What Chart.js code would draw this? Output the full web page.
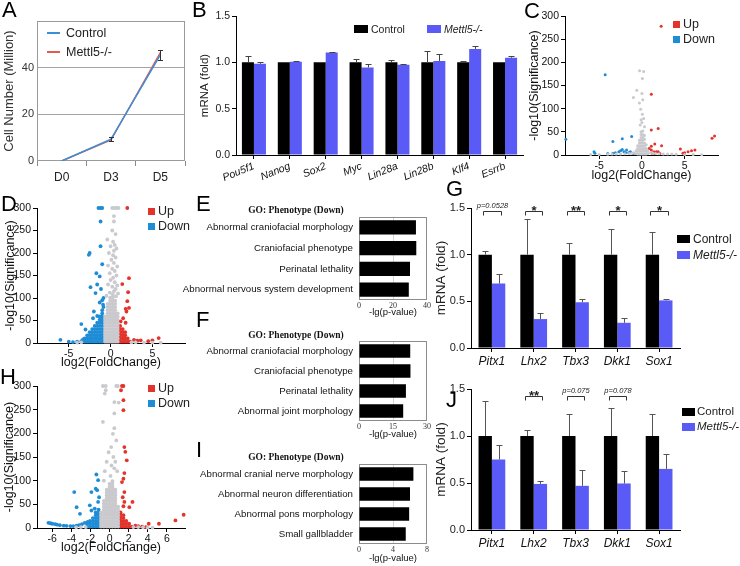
<!DOCTYPE html>
<html><head><meta charset="utf-8">
<script src="https://cdn.jsdelivr.net/npm/chart.js@4.4.1/dist/chart.umd.min.js"></script>
<style>
html,body{margin:0;padding:0;background:#fff;}
#root{position:relative;width:740px;height:566px;overflow:hidden;background:#fff;font-family:"Liberation Sans",Arial,sans-serif;color:#000;}
#root canvas{position:absolute;}
.t{position:absolute;white-space:nowrap;line-height:1;}
.sq{position:absolute;}
</style></head><body><div id="root"></div>
<script>
const SANS='"Liberation Sans", Arial, sans-serif', SERIF='"Liberation Serif", "Times New Roman", serif';
const BLUE_BAR='#5a5af6', BLUE_LINE='#3b8fd6', RED_LINE='#e05c4c', UP='#e3342c', DOWN='#1f8dd6', GREY='#c9c9ce';

// ---------- Panel A ----------
const daysA=['D0','D3','D5'];
const ctrlA=[0,9.4,45.5];
const mutA=[0,9.0,46.5];
const errA=[0,0.7,2.0];
const yTicksA=[0,20,40];

// ---------- Panel B ----------
const genesB=['Pou5f1','Nanog','Sox2','Myc','Lin28a','Lin28b','Klf4','Esrrb'];
const ctrlB=[1,1,1,1,1,1,1,1];
const ctrlBerr=[0.065,0.005,0.008,0.04,0.03,0.12,0.015,0.005];
const mutB=[0.985,1.005,1.105,0.945,0.975,1.015,1.145,1.05];
const mutBerr=[0.015,0.01,0.01,0.04,0.01,0.07,0.035,0.015];
const yTicksBar=[0,0.5,1,1.5];
const yLabBar=['0.0','0.5','1.0','1.5'];

// ---------- Volcano C ----------
const yTicksV=[0,50,100,150,200,250,300];
const xTicksC=[-5,0,5];
const cGray=[-0.27,182,0.2,180,0.05,165,-0.6,140,0,133,-1.0,124,-0.3,112,-0.15,99,0.1,119,0.2,79,0,70,-0.2,65,0.3,61,0.05,88,-0.1,76,
-0.7,3,-0.7,9,
-0.5,2,-0.5,8,-0.5,14,-0.5,20,
-0.3,2,-0.3,8,-0.3,14,-0.3,20,-0.3,26,-0.3,32,
-0.1,2,-0.1,8,-0.1,14,-0.1,20,-0.1,26,-0.1,32,-0.1,38,-0.1,44,-0.1,50,
0.1,2,0.1,8,0.1,14,0.1,20,0.1,26,0.1,32,0.1,38,0.1,44,0.1,52,
0.3,2,0.3,8,0.3,14,0.3,20,0.3,26,0.3,34,0.3,42,
0.5,2,0.5,8,0.5,14,0.5,22,
0.7,3,0.7,9,
-6,1,-5,1,-4,1.5,-3.5,2,-3,2,-2.5,2,-2,2.5,-1.5,3,-1.2,4,-1,5,1,5,1.3,4,1.6,3,2,2.5,2.5,2,3,2,3.5,2,4,1.5,5,1,6,1,7,0.5];
const cUp=[2.25,278,1.1,131,1.1,54,1.9,57,1.5,24,1.1,19,2.3,20,1.1,11,1.4,7,1.7,7,1.9,7,0.85,14,1.2,4,1.5,3,2.1,3,4.5,13,5.0,5,5.4,7,5.8,9,6.2,11,4.8,4,8.2,36,8.5,41];
const cDown=[-4.3,173,-3.4,29,-2.3,35,-1.2,40,-5.6,7,-5.5,4,-3.4,4,-3.1,5,-2.7,7,-2.5,9,-2.1,7,-1.9,5,-1.55,5,-1.35,7,-2.3,12,-1.8,11,-8.9,34,-1.0,3,-4,3];

// ---------- Volcano D ----------
const xTicksD=[-5,0,5];
const dGray=[0.2,300,0.45,300,0.7,300,0.95,300,
0.4,282,0.4,270,0.2,250,0.6,242,-0.4,230,0.3,225,0.5,218,0.0,215,0.7,210,0.4,205,-0.2,200,0.3,195,0.6,190,0.1,185,0.4,178,-0.3,172,0.8,170,0.2,165,0.5,160,-0.1,155,0.7,150,0.3,145,0.0,140,0.5,135,-0.3,130,0.8,128,0.2,125,0.6,120,0.4,115,-0.1,112,0.9,110,-0.5,105,0.65,104,
-0.65,3,-0.65,10,-0.65,17,-0.65,24,-0.65,31,-0.65,38,-0.65,45,-0.65,52,-0.65,59,
-0.35,3,-0.35,10,-0.35,17,-0.35,24,-0.35,31,-0.35,38,-0.35,45,-0.35,52,-0.35,59,-0.35,66,-0.35,73,-0.35,80,-0.35,87,
-0.05,3,-0.05,10,-0.05,17,-0.05,24,-0.05,31,-0.05,38,-0.05,45,-0.05,52,-0.05,59,-0.05,66,-0.05,73,-0.05,80,-0.05,87,-0.05,94,-0.05,101,
0.25,3,0.25,10,0.25,17,0.25,24,0.25,31,0.25,38,0.25,45,0.25,52,0.25,59,0.25,66,0.25,73,0.25,80,0.25,87,0.25,94,0.25,101,0.25,108,
0.55,3,0.55,10,0.55,17,0.55,24,0.55,31,0.55,38,0.55,45,0.55,52,0.55,59,0.55,66,0.55,73,0.55,80,0.55,87,0.55,94,
0.85,3,0.85,10,0.85,17,0.85,24,0.85,31,0.85,38,0.85,45,0.85,52,0.85,59,0.85,66,
-4,1,-3.5,1.5,2.5,1.5,3,1.5,4,1,5,1,6,1];
const dDown=[-1.2,300,-1.0,300,-1.45,300,-1.2,270,-1.2,215,-2.5,200,-2.6,196,-1.7,155,-1.3,148,-2.4,124,-1.6,130,-1.8,111,-1.0,175,-3.5,42,-1.0,95,-0.85,100,-1.3,90,-0.9,85,-2.0,70,-0.85,80,-1.6,60,-3.0,30,-6,7,-5,3,-4.5,2,-4,3,-3.5,4,-3.3,8,-1.15,120,-2.1,55,
-1.0,3,-1.0,10,-1.0,17,-1.0,24,-1.0,31,-1.0,38,-1.0,45,-1.0,52,-1.0,59,-1.0,66,-1.0,73,
-1.3,3,-1.3,10,-1.3,17,-1.3,24,-1.3,31,-1.3,38,-1.3,45,-1.3,52,-1.3,59,
-1.6,3,-1.6,10,-1.6,17,-1.6,24,-1.6,31,-1.6,38,-1.6,45,
-1.9,3,-1.9,10,-1.9,17,-1.9,24,-1.9,31,-1.9,38,
-2.2,3,-2.2,10,-2.2,17,-2.2,24,-2.2,31,
-2.5,3,-2.5,10,-2.5,17,-2.5,24,
-2.8,3,-2.8,10,-2.8,17,
-3.1,3,-3.1,10];
const dUp=[2.0,300,2.2,144,1.4,131,2.1,113,2.0,93,2.2,78,1.8,76,1.9,70,5.75,11,5.0,6,2.8,7,3.6,6,4.5,4,3.2,5,1.8,45,1.5,55,1.2,48,
1.15,3,1.15,10,1.15,17,1.15,24,1.15,31,1.15,38,
1.45,3,1.45,10,1.45,17,1.45,24,1.45,31,
1.75,3,1.75,10,1.75,17,1.75,24,
2.05,3,2.05,10,
2.35,3];

// ---------- Volcano H ----------
const xTicksH=[-6,-4,-2,0,2,4,6];
const hGray=[-0.7,300,-0.4,300,0.7,300,0.86,300,
-0.4,291,-0.5,284,0.5,266,0.96,265,0.5,242,-0.7,224,0.5,211,0.35,199,0.7,185,0.17,171,-0.1,160,0.4,150,0.6,140,-0.3,140,0.2,132,0.5,126,0.8,120,-0.5,120,0.1,110,-0.6,100,
-0.9,3,-0.9,9,-0.9,15,-0.9,21,-0.9,27,-0.9,33,
-0.6,3,-0.6,9,-0.6,15,-0.6,21,-0.6,27,-0.6,33,-0.6,39,-0.6,45,-0.6,51,-0.6,57,
-0.3,3,-0.3,9,-0.3,15,-0.3,21,-0.3,27,-0.3,33,-0.3,39,-0.3,45,-0.3,51,-0.3,57,-0.3,63,-0.3,69,-0.3,75,-0.3,81,
0,3,0,9,0,15,0,21,0,27,0,33,0,39,0,45,0,51,0,57,0,63,0,69,0,75,0,81,0,87,0,93,
0.3,3,0.3,9,0.3,15,0.3,21,0.3,27,0.3,33,0.3,39,0.3,45,0.3,51,0.3,57,0.3,63,0.3,69,0.3,75,0.3,81,0.3,87,0.3,93,0.3,99,
0.6,3,0.6,9,0.6,15,0.6,21,0.6,27,0.6,33,0.6,39,0.6,45,0.6,51,0.6,57,0.6,63,0.6,69,0.6,75,0.6,81,
0.9,3,0.9,9,0.9,15,0.9,21,0.9,27,0.9,33,0.9,39,0.9,45,
-3.5,1.5,-3,2,-2.5,2,2.5,2,3,2,3.5,1.5,4,1,4.5,1];
const hDown=[-1.38,113,-1.2,101,-1.45,83,-1.3,80,-1.9,76,-3.7,76,-3.45,44,-3.1,30,-2.07,48,-1.9,37,-1.55,41,-1.2,55,-1.1,65,-6.4,11,-6.2,10,-6.0,9,-5.7,8,-5.5,7,-5.2,6,-4.8,5,-4.5,4.5,-4.1,4,-3.8,4,-3.45,5,-3.2,6,-2.9,8,-2.6,11,-2.3,13,
-1.15,3,-1.15,9,-1.15,15,-1.15,21,-1.15,27,-1.15,33,-1.15,39,
-1.45,3,-1.45,9,-1.45,15,-1.45,21,-1.45,27,-1.45,33,
-1.75,3,-1.75,9,-1.75,15,-1.75,21,
-2.05,3,-2.05,9,-2.05,15,
-2.35,3,-2.35,9];
const hUp=[1.3,300,1.45,300,1.2,291,1.45,270,1.45,249,1.55,171,1.65,161,1.8,143,1.55,116,1.45,104,1.3,97,1.55,76,1.38,65,1.55,55,1.45,46,2.4,55,2.07,44,7.76,28,6.9,16,5.17,9,4.1,9,2.7,5,3.0,4,3.4,3,3.8,2,
1.15,3,1.15,9,1.15,15,1.15,21,1.15,27,1.15,33,
1.45,3,1.45,9,1.45,15,1.45,21,1.45,27,
1.75,3,1.75,9,1.75,15,
2.05,3,2.05,9,
2.35,3];

// ---------- GO panels ----------
const goE=['Abnormal craniofacial morphology','Craniofacial phenotype','Perinatal lethality','Abnormal nervous system development'];
const valE=[33.5,33.7,30.0,29.3];
const ticksE=[0,20,40];
const goF=['Abnormal craniofacial morphology','Craniofacial phenotype','Perinatal lethality','Abnormal joint morphology'];
const valF=[22.6,22.7,20.7,19.5];
const ticksF=[0,15,30];
const goI=['Abnormal cranial nerve morphology','Abnormal neuron differentiation','Abnormal pons morphology','Small gallbladder'];
const valI=[6.4,6.0,5.9,5.5];
const ticksI=[0,4,8];

// ---------- Panels G, J ----------
const genesGJ=['Pitx1','Lhx2','Tbx3','Dkk1','Sox1'];
const ctrlG=[1,1,1,1,1];
const ctrlGerr=[0.04,0.38,0.12,0.27,0.24];
const mutG=[0.69,0.31,0.49,0.27,0.51];
const mutGerr=[0.10,0.06,0.04,0.05,0.01];
const sigG=['p=0.0528','*','**','*','*'];
const ctrlJ=[1,1,1,1,1];
const ctrlJerr=[0.37,0.06,0.23,0.30,0.235];
const mutJ=[0.75,0.49,0.47,0.495,0.65];
const mutJerr=[0.15,0.03,0.17,0.13,0.16];
const sigJ=['','**','p=0.075','p=0.078',''];

// ================= helpers =================
const root=document.getElementById('root');
Chart.defaults.font.family=SANS;
Chart.defaults.color='#111';
function txt(s,x,y,style,anchor){
  const d=document.createElement('div');d.className='t';d.textContent=s;
  d.style.cssText='left:'+x+'px;top:'+y+'px;'+(style||'');
  const tx=anchor==='c'?'-50%':anchor==='r'?'-100%':'0';
  d.style.transform='translate('+tx+',-50%)';
  root.appendChild(d);return d;
}
function sq(x,y,w,h,c){const d=document.createElement('div');d.className='sq';d.style.cssText='left:'+x+'px;top:'+y+'px;width:'+w+'px;height:'+h+'px;background:'+c;root.appendChild(d);}
function pairs(a){const o=[];for(let i=0;i<a.length;i+=2)o.push({x:a[i],y:a[i+1]});return o;}
function mk(x,y,w,h,cfg){
  const c=document.createElement('canvas');c.width=w;c.height=h;
  c.style.left=x+'px';c.style.top=y+'px';c.style.width=w+'px';c.style.height=h+'px';
  root.appendChild(c);
  cfg.options=Object.assign({responsive:false,animation:false,devicePixelRatio:1,events:[]},cfg.options);
  return new Chart(c.getContext('2d'),cfg);
}
function errPlugin(list,color,cap,both){
  return {id:'errbars',afterDatasetsDraw(chart){
    const ctx=chart.ctx,ys=chart.scales.y;
    ctx.save();ctx.strokeStyle=color;ctx.lineWidth=1;
    list.forEach((errs,di)=>{
      if(!errs)return;
      const meta=chart.getDatasetMeta(di),data=chart.data.datasets[di].data;
      meta.data.forEach((el,j)=>{
        const e=errs[j];if(!e)return;
        const v=data[j],x=Math.round(el.x)+0.5;
        const yT=Math.round(ys.getPixelForValue(v+e))+0.5,yM=ys.getPixelForValue(v);
        const yB=both?Math.round(ys.getPixelForValue(v-e))+0.5:yM;
        ctx.beginPath();ctx.moveTo(x,yB);ctx.lineTo(x,yT);
        ctx.moveTo(x-cap,yT);ctx.lineTo(x+cap,yT);
        if(both){ctx.moveTo(x-cap,yB);ctx.lineTo(x+cap,yB);}
        ctx.stroke();
      });
    });
    ctx.restore();
  }};
}
function framePlugin(color){
  return {id:'frame',beforeDatasetsDraw(chart){
    const a=chart.chartArea,ctx=chart.ctx;ctx.save();ctx.strokeStyle=color;ctx.lineWidth=1;
    ctx.strokeRect(Math.round(a.left)+0.5,Math.round(a.top)+0.5,Math.round(a.right-a.left)-1,Math.round(a.bottom-a.top)-1);ctx.restore();
  }};
}
function sigPlugin(labels,at){
  return {id:'sig',afterDatasetsDraw(chart){
    const ctx=chart.ctx,ys=chart.scales.y,m0=chart.getDatasetMeta(0),m1=chart.getDatasetMeta(1);
    const y=Math.round(ys.getPixelForValue(at))+0.5;
    ctx.save();ctx.strokeStyle='#333';ctx.fillStyle='#222';ctx.lineWidth=1;ctx.textAlign='center';
    labels.forEach((s,i)=>{
      if(!s)return;
      const x1=Math.round(m0.data[i].x-2)+0.5,x2=Math.round(m1.data[i].x+2)+0.5;
      ctx.beginPath();ctx.moveTo(x1,y+4);ctx.lineTo(x1,y);ctx.lineTo(x2,y);ctx.lineTo(x2,y+4);ctx.stroke();
      const xc=(x1+x2)/2;
      if(s.charAt(0)==='p'){ctx.font='italic 7.5px '+SANS;ctx.textBaseline='middle';ctx.fillText(s,xc,y-6);}
      else{ctx.font='bold 13px '+SANS;ctx.textBaseline='alphabetic';ctx.fillText(s,xc,y+3.5);}
    });
    ctx.restore();
  }};
}
const axisBlack={drawOnChartArea:false,tickLength:4,color:'#000'};

// ================= Panel A =================
mk(0,0,190,185,{type:'line',
  data:{labels:daysA,datasets:[
    {label:'Control',data:ctrlA,borderColor:BLUE_LINE,borderWidth:1.5,pointRadius:0,tension:0},
    {label:'Mettl5-/-',data:mutA,borderColor:RED_LINE,borderWidth:1.5,pointRadius:0,tension:0}]},
  options:{layout:{padding:{top:21,right:5,left:0,bottom:0},autoPadding:false},
    plugins:{legend:{display:false},tooltip:{enabled:false}},
    scales:{
      x:{offset:true,grid:{offset:true,drawOnChartArea:false,tickLength:5,color:'#8a8a8a'},border:{display:false},
         ticks:{font:{size:12},color:'#222',padding:4},afterFit:s=>{s.height=24;}},
      y:{min:0,max:60,afterBuildTicks:s=>{s.ticks=yTicksA.map(v=>({value:v}));},
         grid:{drawTicks:false,color:c=>c.tick&&c.tick.value===0?'rgba(0,0,0,0)':'#a4a4a4'},border:{display:false},
         ticks:{font:{size:11},color:'#333',padding:3},
         title:{display:true,text:'Cell Number (Million)',font:{size:13},color:'#333',padding:{top:2,bottom:0}},
         afterFit:s=>{s.width=37;}}}},
  plugins:[framePlugin('#9a9a9a'),errPlugin([errA,null],'#333',2.5,true)]});
sq(47,32,13,1.5,BLUE_LINE);txt('Control',66,33,'font-size:12.5px;color:#222');
sq(47,51,13,1.5,RED_LINE);txt('Mettl5-/-',66,52,'font-size:12.5px;color:#222');

// ================= Panel B =================
mk(190,0,340,200,{type:'bar',
  data:{labels:genesB,datasets:[
    {label:'Control',data:ctrlB,backgroundColor:'#000',categoryPercentage:0.67,barPercentage:1},
    {label:'Mettl5-/-',data:mutB,backgroundColor:BLUE_BAR,categoryPercentage:0.67,barPercentage:1}]},
  options:{layout:{padding:{top:16,right:7,left:0,bottom:0},autoPadding:false},
    plugins:{legend:{display:false},tooltip:{enabled:false}},
    scales:{
      x:{grid:Object.assign({offset:false},axisBlack),border:{color:'#000'},
         ticks:{font:{size:10.5,style:'italic'},color:'#111',minRotation:22,maxRotation:22,padding:1,autoSkip:false},
         afterFit:s=>{s.height=45;}},
      y:{min:0,max:1.5,afterBuildTicks:s=>{s.ticks=yTicksBar.map(v=>({value:v}));},
         grid:axisBlack,border:{color:'#000'},
         ticks:{font:{size:10.5},color:'#222',padding:2,callback:(v,i)=>yLabBar[i]},
         title:{display:true,text:'mRNA (fold)',font:{size:11.5},color:'#222',padding:{top:8,bottom:0}},
         afterFit:s=>{s.width=46;}}}},
  plugins:[errPlugin([ctrlBerr,mutBerr],'#444',3,false)]});
sq(354,25,14,8,'#000');txt('Control',371,29,'font-size:10.5px;color:#222');
sq(427,25,14,8,BLUE_BAR);txt('Mettl5-/-',444,29,'font-size:10.5px;font-style:italic;color:#222');

// ================= Volcano helper =================
function volcano(x,y,w,h,padTop,padRight,yW,xH,xmin,xmax,xticks,gray,down,up,r,tpy,tpx){
  const ds=(d,c)=>({data:pairs(d),backgroundColor:c,pointBackgroundColor:c,pointRadius:r,pointBorderWidth:0,borderWidth:0,clip:6});
  mk(x,y,w,h,{type:'scatter',
    data:{datasets:[ds(gray,GREY),ds(down,DOWN),ds(up,UP)]},
    options:{layout:{padding:{top:padTop,right:padRight,left:0,bottom:0},autoPadding:false},
      plugins:{legend:{display:false},tooltip:{enabled:false}},
      scales:{
        x:{type:'linear',min:xmin,max:xmax,afterBuildTicks:s=>{s.ticks=xticks.map(v=>({value:v}));},
           grid:axisBlack,border:{color:'#000'},ticks:{font:{size:10.5},color:'#111',padding:1,maxRotation:0,autoSkip:false},
           title:{display:true,text:'log2(FoldChange)',font:{size:12.5},color:'#111',padding:{top:0,bottom:tpx}},
           afterFit:s=>{s.height=xH;}},
        y:{type:'linear',min:0,max:300,afterBuildTicks:s=>{s.ticks=yTicksV.map(v=>({value:v}));},
           grid:axisBlack,border:{color:'#000'},ticks:{font:{size:10.5},color:'#111',padding:2},
           title:{display:true,text:'-log10(Significance)',font:{size:12.5},color:'#111',padding:{top:tpy,bottom:0}},
           afterFit:s=>{s.width=yW;}}}}});
}
function vlegend(x,yUp){
  sq(x,yUp-3.5,7,7,UP);txt('Up',x+10,yUp,'font-size:12.5px;color:#222');
  sq(x,yUp+11.5,7,7,DOWN);txt('Down',x+10,yUp+15,'font-size:12.5px;color:#222');
}
volcano(525,0,215,195,16,22,40,40,-9,8.9,xTicksC,cGray,cDown,cUp,1.5,2.5,11.5);
vlegend(673,24);
volcano(0,190,190,182,18,5,37,29,-8.8,8.9,xTicksD,dGray,dDown,dUp,1.9,3.5,1.5);
vlegend(148,211);
volcano(0,368,190,198,18,5,37,38,-7.6,7.9,xTicksH,hGray,hDown,hUp,1.9,2.5,10.5);
vlegend(148,388);

// ================= GO panels =================
function goChart(x,y,w,h,padTop,xH,labels,vals,ticks,tpx){
  mk(x,y,w,h,{type:'bar',
    data:{labels:labels,datasets:[{data:vals,backgroundColor:'#000',categoryPercentage:1,barPercentage:0.68}]},
    options:{indexAxis:'y',layout:{padding:{top:padTop,right:8,left:0,bottom:0},autoPadding:false},
      plugins:{legend:{display:false},tooltip:{enabled:false}},
      scales:{
        y:{grid:{display:false,drawTicks:false},border:{display:false},ticks:{font:{size:9.7},color:'#111',padding:6,autoSkip:false},afterFit:s=>{s.width=181;}},
        x:{min:ticks[0],max:ticks[2],afterBuildTicks:s=>{s.ticks=ticks.map(v=>({value:v}));},
           grid:{drawTicks:false,color:c=>c.tick&&c.tick.value===ticks[1]?'#d6d6d6':'rgba(0,0,0,0)'},border:{display:false},
           ticks:{font:{size:8,family:SERIF},color:'#333',padding:1},
           title:{display:true,text:'-lg(p-value)',font:{size:9.5},color:'#111',padding:{top:0,bottom:tpx}},
           afterFit:s=>{s.height=xH;}}}},
    plugins:[framePlugin('#8c8c8c')]});
}
goChart(178,200,257,125,17,25,goE,valE,ticksE,6.5);
goChart(178,325,257,120,16,24,goF,valF,ticksF,4.5);
goChart(178,448,257,118,16,22,goI,valI,ticksI,1.5);
const goTitle='font-family:'+SERIF+';font-weight:bold;font-size:9.5px;color:#111';
txt('GO: Phenotype (Down)',296,211,goTitle,'c');
txt('GO: Phenotype (Down)',296,336,goTitle,'c');
txt('GO: Phenotype (Down)',296,458,goTitle,'c');

// ================= G, J =================
function gj(x,y,padTop,xH,ctrl,cerr,mut,merr,sig,sigAt){
  mk(x,y,254,200,{type:'bar',
    data:{labels:genesGJ,datasets:[
      {label:'Control',data:ctrl,backgroundColor:'#000',categoryPercentage:0.64,barPercentage:1},
      {label:'Mettl5-/-',data:mut,backgroundColor:BLUE_BAR,categoryPercentage:0.64,barPercentage:1}]},
    options:{layout:{padding:{top:padTop,right:4,left:0,bottom:0},autoPadding:false},
      plugins:{legend:{display:false},tooltip:{enabled:false}},
      scales:{
        x:{grid:Object.assign({offset:false},axisBlack),border:{color:'#000'},
           ticks:{font:{size:12,style:'italic'},color:'#111',padding:2,maxRotation:0,autoSkip:false},afterFit:s=>{s.height=xH;}},
        y:{min:0,max:1.5,afterBuildTicks:s=>{s.ticks=yTicksBar.map(v=>({value:v}));},
           grid:axisBlack,border:{color:'#000'},
           ticks:{font:{size:11},color:'#222',padding:2,callback:(v,i)=>yLabBar[i]},
           title:{display:true,text:'mRNA (fold)',font:{size:13.5},color:'#222',padding:{top:3,bottom:0}},
           afterFit:s=>{s.width=41;}}}},
    plugins:[errPlugin([cerr,merr],'#555',3,false),sigPlugin(sig,sigAt)]});
}
gj(430,175,33,27,ctrlG,ctrlGerr,mutG,mutGerr,sigG,1.47);
gj(430,355,34,25,ctrlJ,ctrlJerr,mutJ,mutJerr,sigJ,1.43);
sq(677,235,13,8,'#000');txt('Control',693,239,'font-size:12px;color:#222');
sq(677,251,13,8,BLUE_BAR);txt('Mettl5-/-',693,255,'font-size:12px;font-style:italic;color:#222');
sq(682,408,13,8,'#000');txt('Control',697,412,'font-size:11.5px;color:#222');
sq(682,423,13,8,BLUE_BAR);txt('Mettl5-/-',697,427,'font-size:11.5px;font-style:italic;color:#222');

// ================= panel letters =================
const LS='font-size:22px;color:#000';
txt('A',2,10,LS);txt('B',192,10,LS);txt('C',524,11,LS);
txt('D',1,204,LS);txt('E',196,204,LS);txt('F',196,320,LS);
txt('G',446,189,LS);txt('H',0,377,LS);txt('I',196,450,LS);txt('J',446,400,LS);
</script></body></html>
